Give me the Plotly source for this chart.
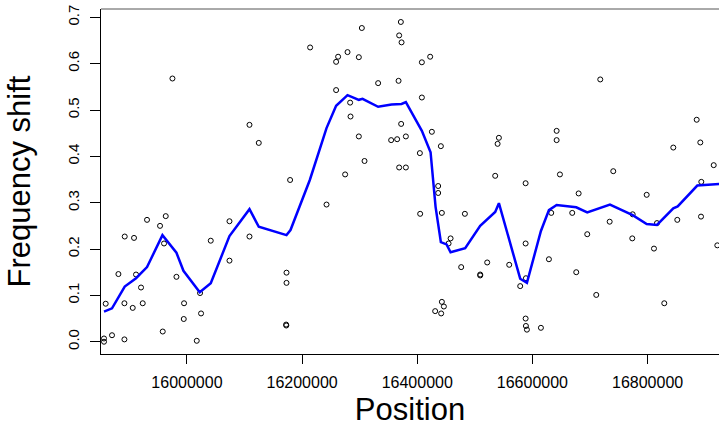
import plotly.graph_objects as go

# Scatter points: position and frequency shift
positions = [
    15855950, 15855950, 15858900, 15869850, 15880970, 15891920, 15891400, 15891400,
    15908080, 15905820, 15911560, 15920240, 15923200, 15930670, 15953260, 15963160,
    15960210, 15957950, 15974800, 15981760, 15994960, 15994440, 16017030, 16022760,
    16024500, 16041360, 16073850, 16073850, 16108600, 16108600, 16124760, 16179150,
    16172890, 16172890, 16172200, 16172500, 16213900, 16242400, 16259080, 16262550,
    16259080, 16278890, 16283400, 16284100, 16274720, 16298520, 16303730, 16298520,
    16308420, 16332060, 16371500, 16368550, 16372720, 16367500, 16372020, 16365070,
    16354640, 16380190, 16368550, 16380190, 16407990, 16422410, 16407990, 16425360,
    16404510, 16405030, 16436310, 16436310, 16431100, 16441000, 16442740, 16442740,
    16446220, 16441520, 16457860, 16454380, 16482700, 16476280, 16509290, 16509290,
    16521450, 16535360, 16539530, 16541780, 16559680, 16588180, 16588180, 16578800,
    16588700, 16588180, 16588700, 16590440, 16614760, 16628660, 16632660, 16642040,
    16642040, 16647780, 16669150, 16676100, 16680270, 16695210, 16710850, 16717800,
    16734140, 16740390, 16773410, 16774100, 16798430, 16811110, 16816320, 16829010,
    16844650, 16851600, 16885310, 16891560, 16893300, 16892780, 16914850, 16921100,
]
freq_shift = [
    0.007, 0.000, 0.082, 0.014, 0.146, 0.227, 0.083, 0.005,
    0.224, 0.073, 0.145, 0.117, 0.083, 0.263, 0.250, 0.271,
    0.212, 0.022, 0.568, 0.140, 0.083, 0.049, 0.002, 0.105,
    0.061, 0.218, 0.260, 0.175, 0.468, 0.227, 0.429, 0.349,
    0.149, 0.127, 0.037, 0.035, 0.635, 0.296, 0.604, 0.615,
    0.543, 0.625, 0.516, 0.486, 0.361, 0.614, 0.677, 0.443,
    0.390, 0.558, 0.690, 0.661, 0.646, 0.563, 0.470, 0.437,
    0.435, 0.443, 0.376, 0.376, 0.603, 0.615, 0.527, 0.453,
    0.407, 0.276, 0.336, 0.321, 0.066, 0.422, 0.278, 0.086,
    0.076, 0.061, 0.223, 0.212, 0.276, 0.161, 0.145, 0.143,
    0.171, 0.358, 0.427, 0.440, 0.166, 0.342, 0.212, 0.120,
    0.137, 0.050, 0.034, 0.026, 0.030, 0.178, 0.278, 0.455,
    0.435, 0.361, 0.278, 0.150, 0.320, 0.232, 0.101, 0.566,
    0.259, 0.368, 0.223, 0.275, 0.317, 0.201, 0.256, 0.083,
    0.419, 0.263, 0.479, 0.430, 0.345, 0.270, 0.381, 0.208,
]

# Smoothed curve
smooth_pos = [
    15855950, 15869850, 15891920, 15911560, 15930670, 15957430, 15981760, 15993920,
    16022240, 16041360, 16073850, 16108600, 16124760, 16172890, 16179840, 16213380,
    16242400, 16259080, 16278890, 16298520, 16304950, 16332060, 16355340, 16372720,
    16380190, 16407990, 16423110, 16431790, 16441000, 16450910, 16457860, 16483230,
    16509290, 16535360, 16541780, 16578800, 16590440, 16614760, 16628660, 16642040,
    16676100, 16695210, 16734660, 16774100, 16798430, 16816320, 16844650, 16852290,
    16886350, 16935000,
]
smooth_val = [
    0.065, 0.072, 0.119, 0.137, 0.161, 0.230, 0.192, 0.153,
    0.107, 0.126, 0.228, 0.286, 0.248, 0.230, 0.241, 0.349,
    0.461, 0.509, 0.532, 0.522, 0.524, 0.507, 0.512, 0.513,
    0.517, 0.455, 0.409, 0.291, 0.215, 0.210, 0.193, 0.202,
    0.250, 0.280, 0.299, 0.136, 0.127, 0.239, 0.284, 0.295,
    0.290, 0.279, 0.296, 0.273, 0.254, 0.252, 0.288, 0.292,
    0.337, 0.341,
]

x_ticks = [16000000, 16200000, 16400000, 16600000, 16800000]
x_tick_labels = ["16000000", "16200000", "16400000", "16600000", "16800000"]
y_ticks = [0.0, 0.1, 0.2, 0.3, 0.4, 0.5, 0.6, 0.7]
y_tick_labels = ["0.0", "0.1", "0.2", "0.3", "0.4", "0.5", "0.6", "0.7"]

FONT = "Liberation Sans, Arial, sans-serif"

fig = go.Figure()
fig.add_trace(go.Scatter(
    x=positions, y=freq_shift, mode="markers",
    marker=dict(symbol="circle-open", size=5, color="black", line=dict(width=1, color="black")),
    showlegend=False, hoverinfo="x+y",
))
fig.add_trace(go.Scatter(
    x=smooth_pos, y=smooth_val, mode="lines",
    line=dict(color="#0000FF", width=2.5),
    showlegend=False,
))

fig.update_layout(
    width=719, height=427,
    margin=dict(l=101, r=0, t=9, b=73),
    paper_bgcolor="white", plot_bgcolor="white",
    font=dict(family=FONT, color="black"),
    xaxis=dict(
        range=[15850730, 16924040],
        tickmode="array", tickvals=x_ticks, ticktext=x_tick_labels,
        ticks="outside", ticklen=9, tickwidth=1, tickcolor="black",
        tickfont=dict(size=16, family=FONT),
        ticklabelstandoff=5,
        showline=True, linecolor="black", linewidth=1,
        showgrid=False, zeroline=False,
        title=dict(text="Position", font=dict(size=31, family=FONT), standoff=10),
        automargin=False,
    ),
    yaxis=dict(
        range=[-0.0265, 0.718],
        tickmode="array", tickvals=y_ticks, ticktext=y_tick_labels,
        ticks="outside", ticklen=10, tickwidth=1, tickcolor="black",
        tickfont=dict(size=15, family=FONT), tickangle=-90,
        ticklabelstandoff=5,
        showline=True, linecolor="black", linewidth=1,
        showgrid=False, zeroline=False,
        title=dict(text="Frequency shift", font=dict(size=31, family=FONT), standoff=25),
        automargin=False,
    ),
    shapes=[dict(type="line", xref="paper", yref="paper", x0=0, x1=1, y0=1, y1=1,
                 line=dict(color="#555555", width=1))],
)

fig.write_html(
    "out.html",
    config={"displayModeBar": False},
    post_script="document.body.style.margin='0';document.body.style.overflow='hidden';",
)
